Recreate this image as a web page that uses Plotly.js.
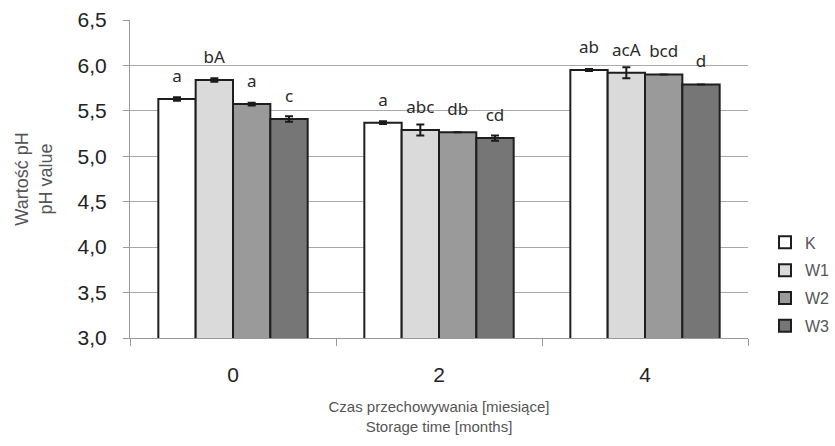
<!DOCTYPE html>
<html>
<head>
<meta charset="utf-8">
<script src="https://cdn.plot.ly/plotly-3.0.1.min.js"></script>
<style>html,body{margin:0;padding:0;background:#fff;}#chart{width:835px;height:446px;}</style>
</head>
<body>
<div id="chart"></div>
<script>
// Data
var categories = ['0', '2', '4'];
var seriesNames = ['K', 'W1', 'W2', 'W3'];
var valK  = [5.63, 5.37, 5.95];
var valW1 = [5.84, 5.29, 5.92];
var valW2 = [5.575, 5.265, 5.90];
var valW3 = [5.41, 5.20, 5.79];
var errK  = [0.02, 0.015, 0.01];
var errW1 = [0.02, 0.06, 0.06];
var errW2 = [0.015, 0, 0];
var errW3 = [0.03, 0.03, 0];
var lettersK  = ['a', 'a', 'ab'];
var lettersW1 = ['bA', 'abc', 'acA'];
var lettersW2 = ['a', 'db', 'bcd'];
var lettersW3 = ['c', 'cd', 'd'];
var yTicks = [3.0, 3.5, 4.0, 4.5, 5.0, 5.5, 6.0, 6.5];

var values = [valK, valW1, valW2, valW3];
var errors = [errK, errW1, errW2, errW3];
var letters = [lettersK, lettersW1, lettersW2, lettersW3];
var fills = ['#ffffff', '#dadada', '#9a9a9a', '#767676'];
var labelLift = 0.10;

var traces = [];
for (var i = 0; i < 4; i++) {
  traces.push({
    type: 'bar', name: seriesNames[i], x: categories, y: values[i],
    offsetgroup: seriesNames[i], legendgroup: seriesNames[i],
    marker: {color: fills[i], line: {color: '#1e1e1e', width: 2}},
    error_y: {type: 'data', array: errors[i], visible: true, color: '#1a1a1a', thickness: 2, width: 4},
    hoverinfo: 'y'
  });
}
for (var j = 0; j < 4; j++) {
  traces.push({
    type: 'bar', name: seriesNames[j] + ' labels', x: categories,
    y: values[j].map(function (v) { return v + labelLift; }),
    offsetgroup: seriesNames[j], showlegend: false, hoverinfo: 'skip',
    marker: {color: 'rgba(0,0,0,0)', line: {width: 0}},
    text: letters[j], textposition: 'outside',
    constraintext: 'none', textangle: 0, cliponaxis: false,
    textfont: {family: 'Noto Sans, sans-serif', size: 17, color: '#2a2a2a'}
  });
}

var layout = {
  width: 835, height: 446,
  margin: {l: 130, r: 87, t: 20, b: 108},
  paper_bgcolor: '#ffffff', plot_bgcolor: '#ffffff',
  barmode: 'group', bargap: 0.275, bargroupgap: 0,
  separators: ',.',
  showlegend: true,
  legend: {
    x: 1.0, xanchor: 'right', xref: 'container', y: 0.354, yanchor: 'top',
    font: {family: 'Liberation Sans, Arial, sans-serif', size: 16, color: '#555555'},
    tracegroupgap: 4, itemclick: false, bgcolor: 'rgba(0,0,0,0)'
  },
  xaxis: {
    type: 'category', tickson: 'boundaries', ticks: 'outside', ticklen: 7,
    tickcolor: '#999999', showline: true, linecolor: '#999999', linewidth: 1,
    showgrid: false, zeroline: false, ticklabelstandoff: 18,
    tickfont: {family: 'Liberation Sans, Arial, sans-serif', size: 21, color: '#222222'},
    title: {
      text: 'Czas przechowywania [miesiące]<br>Storage time [months]',
      font: {family: 'Liberation Sans, Arial, sans-serif', size: 15, color: '#555555'},
      standoff: 16
    }
  },
  yaxis: {
    range: [3, 6.5], tickvals: yTicks, tickformat: '.1f',
    ticks: 'outside', ticklen: 6, tickcolor: '#999999',
    showline: true, linecolor: '#999999', linewidth: 1,
    showgrid: true, gridcolor: '#aaaaaa', gridwidth: 1, zeroline: false,
    ticklabelstandoff: 12, automargin: 'left',
    tickfont: {family: 'Liberation Sans, Arial, sans-serif', size: 21, color: '#222222'},
    title: {
      text: 'Wartość pH<br>pH value',
      font: {family: 'Liberation Sans, Arial, sans-serif', size: 18, color: '#555555'},
      standoff: 20
    }
  }
};

Plotly.newPlot('chart', traces, layout, {displayModeBar: false, staticPlot: true});
</script>
</body>
</html>
